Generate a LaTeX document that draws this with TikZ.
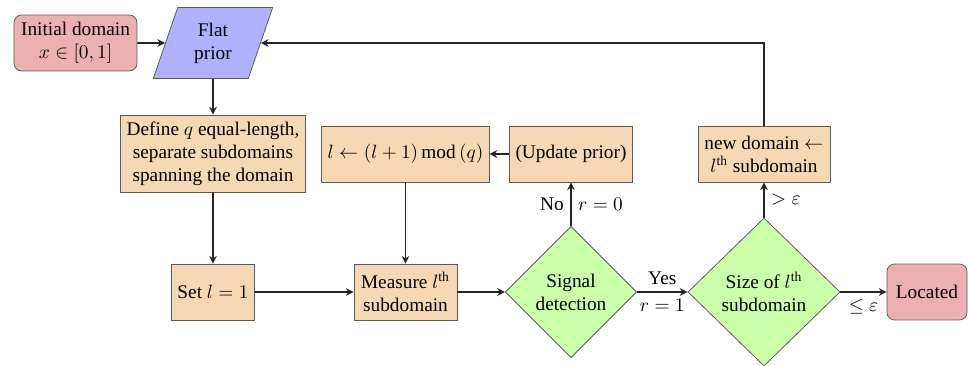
\documentclass[tikz,border=0pt]{standalone}
\usepackage{fontspec}
\setmainfont{Liberation Serif}
\usetikzlibrary{shapes.geometric,arrows.meta}
\newlength{\du}
\setlength{\du}{0.518pt}
\definecolor{boxfill}{RGB}{246,216,180}
\definecolor{endfill}{RGB}{236,176,176}
\definecolor{priorfill}{RGB}{176,176,255}
\definecolor{testfill}{RGB}{204,255,170}
\definecolor{edgecol}{RGB}{90,90,90}
\tikzset{
stepbox/.style={draw=edgecol,fill=boxfill,align=center,minimum height=29pt,inner sep=3pt},
endbox/.style={stepbox,fill=endfill,rounded corners=4pt},
priorbox/.style={trapezium,trapezium left angle=72,trapezium right angle=108,trapezium stretches=true,draw=edgecol,fill=priorfill,align=center,minimum width=62pt,minimum height=36.8pt},
testbox/.style={diamond,draw=edgecol,fill=testfill,align=center,inner sep=0pt},
flow/.style={line width=0.8pt,draw=black!85,-{Stealth[length=4pt,width=4pt]}}
}
\begin{document}
\begin{tikzpicture}[x=\du,y=-1\du]
\useasboundingbox (0,0) rectangle (968,366);
\node[endbox,minimum width=63.7pt] (init) at (75.5,43) {Initial domain\\$x\in[0,1]$};
\node[priorbox] (flat) at (213,43) {Flat\\prior};
\node[stepbox,minimum width=96pt,minimum height=40pt] (define) at (213,153.5) {Define $q$ equal-length,\\separate subdomains\\spanning the domain};
\node[stepbox,minimum width=84pt] (lupd) at (405.5,154) {$l\leftarrow(l+1)\,\mathrm{mod}\,(q)$};
\node[stepbox,minimum width=64pt] (update) at (571,154) {(Update prior)};
\node[stepbox,minimum width=68.4pt] (newdom) at (764,154) {new domain $\leftarrow$\\$l^{\mathrm{th}}$ subdomain};
\node[stepbox,minimum width=42.5pt] (setl) at (213,292) {Set $l=1$};
\node[stepbox,minimum width=53.4pt] (measure) at (405.5,292) {Measure $l^{\mathrm{th}}$\\subdomain};
\node[testbox,minimum width=68pt,minimum height=68pt] (signal) at (571,292) {Signal\\detection};
\node[testbox,minimum width=78.8pt,minimum height=76.7pt] (size) at (764,292) {Size of $l^{\mathrm{th}}$\\subdomain};
\node[endbox,minimum width=41.5pt] (located) at (927,292) {Located};

\draw[flow] (init) -- (flat);
\draw[flow] (flat) -- (define);
\draw[flow] (define) -- (setl);
\draw[flow] (setl) -- (measure);
\draw[flow] (measure) -- (signal);
\draw[flow] (update) -- (lupd);
\draw[flow] (lupd) -- (measure);
\draw[flow] (signal) -- node[left]{No} node[right]{$r=0$} (update);
\draw[flow] (signal) -- node[above]{Yes} node[below]{$r=1$} (size);
\draw[flow] (size) -- node[right]{$>\varepsilon$} (newdom);
\draw[flow] (size) -- node[below]{$\leq\varepsilon$} (located);
\draw[flow] (newdom) |- (flat);
\end{tikzpicture}
\end{document}
